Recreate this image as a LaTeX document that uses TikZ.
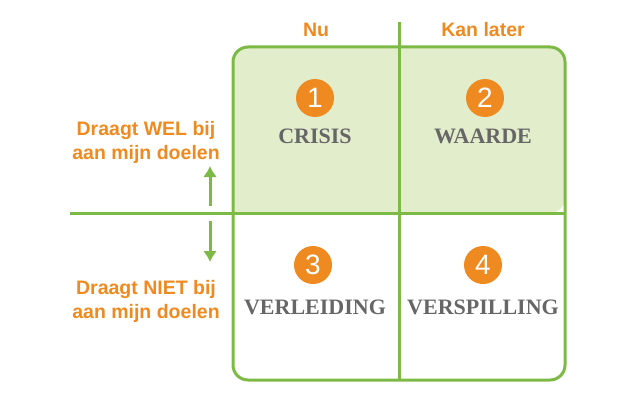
\documentclass[tikz,border=0pt]{standalone}
\usetikzlibrary{arrows.meta}
\usepackage{fontspec}
\setmainfont{Liberation Serif}
\newfontfamily\lab{Liberation Sans}
\definecolor{grn}{HTML}{7DBA45}
\definecolor{lgrn}{HTML}{E2EDCC}
\definecolor{org}{HTML}{EE8A1F}
\definecolor{gry}{HTML}{666666}
\begin{document}
\begin{tikzpicture}[x=1pt,y=-1pt,
  num/.style={circle,fill=org,minimum size=38pt,inner sep=0pt,text=white,font=\lab\fontsize{28}{28}\selectfont},
  word/.style={text=gry,font=\bfseries\fontsize{22}{22}\selectfont},
  olab/.style={text=org,font=\lab\bfseries\fontsize{19.5}{24}\selectfont,align=center},
  gl/.style={grn,line width=3pt},
  arr/.style={grn,line width=3pt,-{Latex[length=11pt,width=14pt]}}]
\useasboundingbox (0,0) rectangle (628,409);
\fill[lgrn,rounded corners=15pt] (233,213) -- (233,47) -- (565,47) -- (565,213) [sharp corners] -- cycle;
\draw[gl,rounded corners=15pt] (233,47) rectangle (565,380);
\coordinate (vt) at (399,22); \coordinate (vb) at (399,380);
\coordinate (hl) at (70,213); \coordinate (hr) at (565,213);
\draw[gl] (vt) -- (vb);
\draw[gl] (hl) -- (hr);
\node[num] (n1) at (315,98) {1};
\node[num] (n2) at (485,98) {2};
\node[num] (n3) at (313,265) {3};
\node[num] (n4) at (483,265) {4};
\node[word] (w1) at (315,136) {CRISIS};
\node[word] (w2) at (483,136) {WAARDE};
\node[word] (w3) at (315,307) {VERLEIDING};
\node[word] (w4) at (483,307) {VERSPILLING};
\node[olab] (h1) at (316,30) {Nu};
\node[olab] (h2) at (483,30) {Kan later};
\node[olab] (l1) at (146,142) {Draagt WEL bij\\aan mijn doelen};
\node[olab] (l2) at (146,301) {Draagt NIET bij\\aan mijn doelen};
\coordinate (a1) at (210,206); \coordinate (a1e) at (210,166);
\coordinate (a2) at (210,221); \coordinate (a2e) at (210,262);
\draw[arr] (a1) -- (a1e);
\draw[arr] (a2) -- (a2e);
\end{tikzpicture}
\end{document}
